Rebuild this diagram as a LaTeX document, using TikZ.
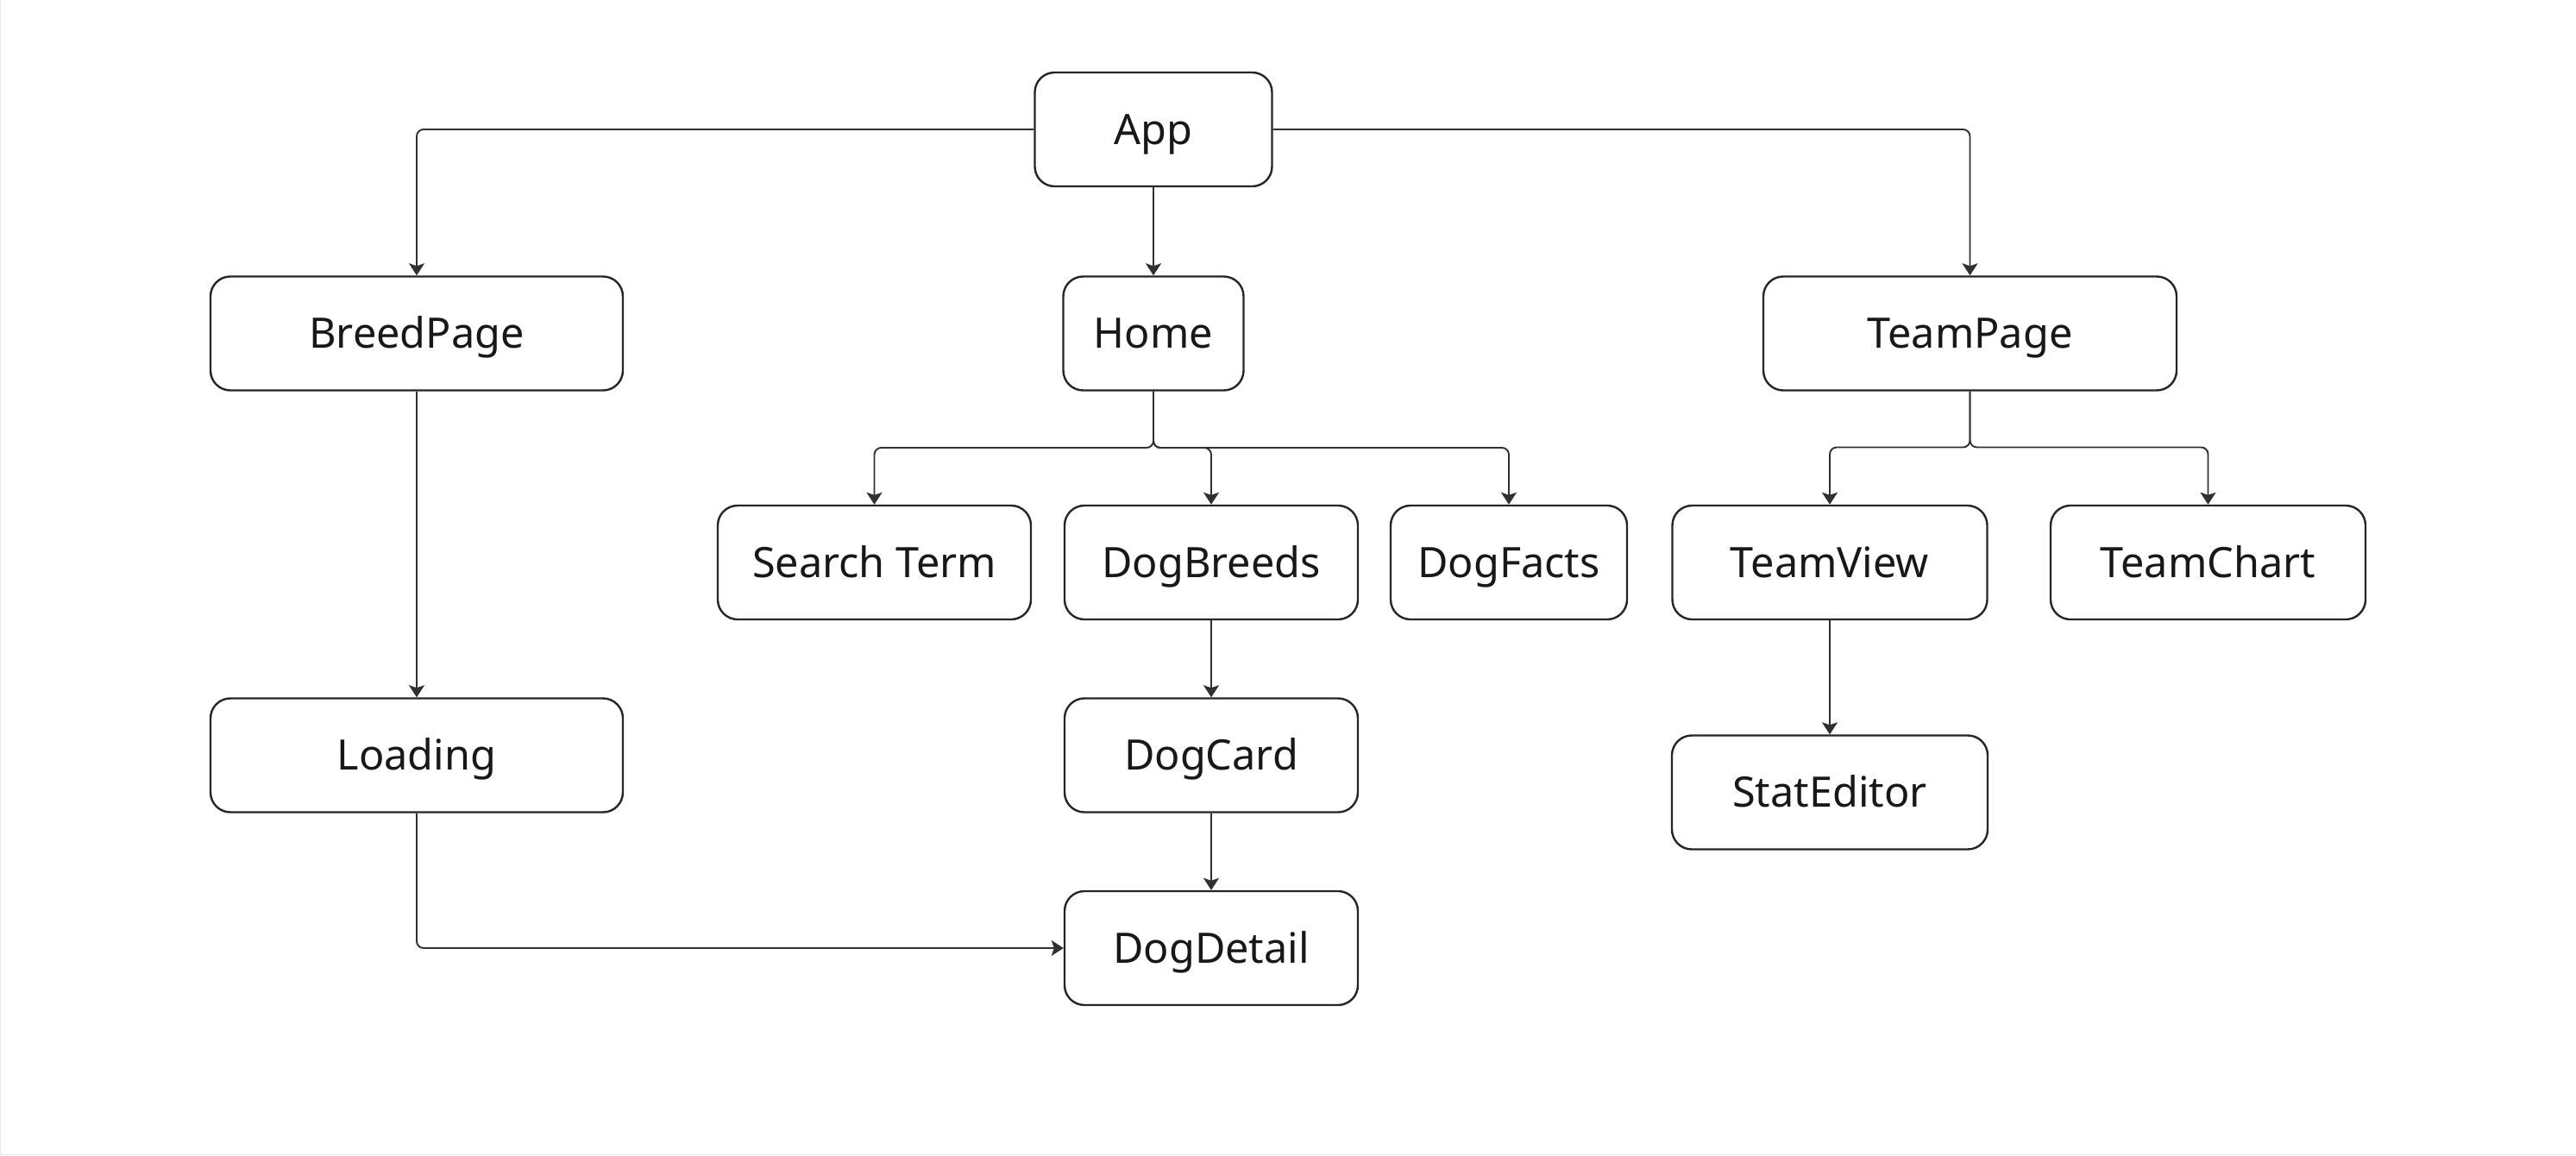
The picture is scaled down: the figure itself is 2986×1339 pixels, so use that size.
\documentclass[tikz,border=0pt]{standalone}
\usepackage{fontspec}
\setmainfont{Noto Sans}
\usetikzlibrary{arrows.meta}
\definecolor{boxline}{HTML}{262626}
\definecolor{connline}{HTML}{303030}
\definecolor{txt}{HTML}{181818}
\definecolor{edgegray}{HTML}{E8E8E8}
\begin{document}
\begin{tikzpicture}[x=0.5pt,y=-0.5pt,
  box/.style={draw=boxline, line width=1.2pt, rounded corners=11.5pt, fill=white,
    text=txt, font=\fontsize{24.3}{28}\selectfont, inner sep=0pt,
    text height=17.4pt, text depth=0pt, minimum height=66pt},
  conn/.style={draw=connline, line width=0.95pt, rounded corners=4pt,
    -{Stealth[length=7pt,width=9pt,inset=1.5pt]}},
  frame/.style={draw=edgegray, line width=0.6pt}
]
\useasboundingbox (0,0) rectangle (2986,1339);
\draw[frame] (0.6,0) -- (0.6,1338.4) -- (2986,1338.4);

% row 1
\node[box, minimum width=137.5pt] (app) at (1337,150) {App};
% row 2
\node[box, minimum width=239pt] (breed) at (483,386.5) {BreedPage};
\node[box, minimum width=104.5pt] (home) at (1337,386.5) {Home};
\node[box, minimum width=239.5pt] (team) at (2283.5,386.5) {TeamPage};
% row 3
\node[box, minimum width=181.5pt] (search) at (1013.5,652) {Search Term};
\node[box, minimum width=170pt] (breeds) at (1404,652) {DogBreeds};
\node[box, minimum width=137pt] (facts) at (1749,652) {DogFacts};
\node[box, minimum width=182.5pt] (tview) at (2121,652) {TeamView};
\node[box, minimum width=182.5pt] (tchart) at (2559.5,652) {TeamChart};
% row 4
\node[box, minimum width=239pt] (loading) at (483,875.5) {Loading};
\node[box, minimum width=170pt] (card) at (1404,875.5) {DogCard};
\node[box, minimum width=183pt] (stat) at (2121,918.5) {StatEditor};
% row 5
\node[box, minimum width=170pt] (detail) at (1404,1099) {DogDetail};

\coordinate (jh) at (1337,519);
\coordinate (jt) at (2283.5,518.5);

% connectors
\draw[conn] (app.west) -| (breed.north);
\draw[conn] (app.south) -- (home.north);
\draw[conn] (app.east) -| (team.north);

\draw[conn] (home.south) -- (jh) -| (search.north);
\draw[conn] (home.south) -- (jh) -| (breeds.north);
\draw[conn] (home.south) -- (jh) -| (facts.north);

\draw[conn] (team.south) -- (jt) -| (tview.north);
\draw[conn] (team.south) -- (jt) -| (tchart.north);

\draw[conn] (breed.south) -- (loading.north);
\draw[conn] (breeds.south) -- (card.north);
\draw[conn] (card.south) -- (detail.north);
\draw[conn] (tview.south) -- (stat.north);
\draw[conn] (loading.south) |- (detail.west);
\end{tikzpicture}
\end{document}
